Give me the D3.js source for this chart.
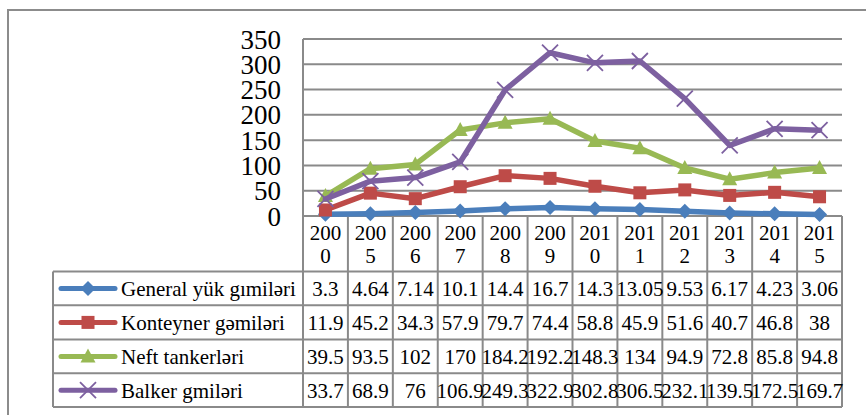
<!DOCTYPE html>
<html><head><meta charset="utf-8">
<script src="https://cdn.jsdelivr.net/npm/d3@7"></script>
<style>
html,body{margin:0;padding:0;background:#fff;}
svg{display:block;}
svg text{font-family:'Liberation Serif','DejaVu Serif','Times New Roman',serif;}
</style></head>
<body>
<svg id="c" width="866" height="415"></svg>
<script>
const years = ["2000","2005","2006","2007","2008","2009","2010","2011","2012","2013","2014","2015"];
const seriesNames = ["General yük gımiləri","Konteyner gəmiləri","Neft tankerləri","Balker gmiləri"];
const general = [3.3,4.64,7.14,10.1,14.4,16.7,14.3,13.05,9.53,6.17,4.23,3.06];
const konteyner = [11.9,45.2,34.3,57.9,79.7,74.4,58.8,45.9,51.6,40.7,46.8,38];
const neft = [39.5,93.5,102,170,184.2,192.2,148.3,134,94.9,72.8,85.8,94.8];
const balker = [33.7,68.9,76,106.9,249.3,322.9,302.8,306.5,232.1,139.5,172.5,169.7];
const yTicks = [0,50,100,150,200,250,300,350];
const colors = ["#4a7ebb","#be4b48","#98b954","#7d60a0"];
const markers = ["diamond","square","triangle","x"];
const allSeries = [general,konteyner,neft,balker];
const FONT = "'Liberation Serif','DejaVu Serif','Times New Roman',serif";

const svg = d3.select("#c");
const gridColor = "#8a8a8a";

svg.append("rect").attr("x",8).attr("y",10).attr("width",950).attr("height",500)
  .attr("fill","none").attr("stroke","#8c8c8c").attr("stroke-width",2);

const plotL = 303, plotR = 842, plotT = 39, plotB = 216;
const x = d3.scaleBand().domain(years).range([plotL, plotR]);
const y = d3.scaleLinear().domain([0,350]).range([plotB, plotT]);
const cx = d => x(d) + x.bandwidth()/2;

svg.append("g").selectAll("line").data(yTicks.filter(t=>t>0)).join("line")
  .attr("x1",plotL).attr("x2",plotR).attr("y1",d=>y(d)).attr("y2",d=>y(d))
  .attr("stroke",gridColor).attr("stroke-width",2);

svg.append("g").selectAll("text").data(yTicks).join("text")
  .attr("x",281).attr("y",d=>y(d)+9.5).attr("text-anchor","end")
  .attr("font-family",FONT).attr("font-size",27).attr("fill","#000").text(d=>d);

const rowTops = [271.5, 305.3, 339.5, 373.3, 407];
const legL = 53;
const tbl = svg.append("g").attr("stroke",gridColor).attr("stroke-width",2).attr("fill","none");
tbl.append("line").attr("x1",plotL).attr("x2",plotR).attr("y1",plotB).attr("y2",plotB);
tbl.append("line").attr("x1",plotL).attr("x2",plotL).attr("y1",plotT).attr("y2",rowTops[4]);
const colEdges = years.map(d=>x(d)+x.bandwidth());
tbl.selectAll("line.col").data(colEdges).join("line").attr("class","col")
  .attr("x1",d=>d).attr("x2",d=>d).attr("y1",plotB).attr("y2",rowTops[4]);
tbl.selectAll("line.row").data(rowTops).join("line").attr("class","row")
  .attr("x1",legL).attr("x2",plotR).attr("y1",d=>d).attr("y2",d=>d);
tbl.append("line").attr("x1",legL).attr("x2",legL).attr("y1",rowTops[0]).attr("y2",rowTops[4]);

const yl = svg.append("g").attr("font-size",21).attr("text-anchor","middle").attr("font-family",FONT);
years.forEach(yr=>{
  const t = yl.append("text").attr("x",cx(yr)).attr("y",240);
  t.append("tspan").attr("x",cx(yr)).attr("y",240).text(yr.slice(0,3));
  t.append("tspan").attr("x",cx(yr)).attr("y",263).text(yr.slice(3));
});

function marker(g, type, px, py, color){
  if(type==="diamond"){
    g.append("path").attr("d",`M${px},${py-7.5}L${px+7.5},${py}L${px},${py+7.5}L${px-7.5},${py}Z`).attr("fill",color);
  } else if(type==="square"){
    g.append("rect").attr("x",px-6.5).attr("y",py-6.5).attr("width",13).attr("height",13).attr("fill",color);
  } else if(type==="triangle"){
    g.append("path").attr("d",`M${px},${py-8}L${px+7.5},${py+6}L${px-7.5},${py+6}Z`).attr("fill",color);
  } else {
    g.append("path").attr("d",`M${px-8},${py-8}L${px+8},${py+8}M${px-8},${py+8}L${px+8},${py-8}`)
      .attr("stroke",color).attr("stroke-width",1.8).attr("fill","none");
  }
}

const line = d3.line().x((d,i)=>cx(years[i])).y(d=>y(d));
allSeries.forEach((s,si)=>{
  const g = svg.append("g");
  g.append("path").attr("d",line(s)).attr("fill","none").attr("stroke",colors[si])
    .attr("stroke-width",5.5).attr("stroke-linejoin","round").attr("stroke-linecap","round");
  s.forEach((v,i)=>marker(g, markers[si], cx(years[i]), y(v), colors[si]));
});

allSeries.forEach((s,si)=>{
  const top = rowTops[si], bot = rowTops[si+1], mid = (top+bot)/2;
  const g = svg.append("g").attr("font-family",FONT);
  g.append("line").attr("x1",61).attr("x2",115).attr("y1",mid).attr("y2",mid)
    .attr("stroke",colors[si]).attr("stroke-width",5).attr("stroke-linecap","round");
  marker(g, markers[si], 88, mid, colors[si]);
  g.append("text").attr("x",121).attr("y",mid+7.5).attr("font-size",21).attr("fill","#000")
    .text(seriesNames[si]);
  g.selectAll("text.v").data(s).join("text").attr("class","v")
    .attr("x",(d,i)=>cx(years[i])).attr("y",mid+7.5).attr("text-anchor","middle")
    .attr("font-size",21).attr("fill","#000").text(d=>String(d));
});
</script>
</body></html>
